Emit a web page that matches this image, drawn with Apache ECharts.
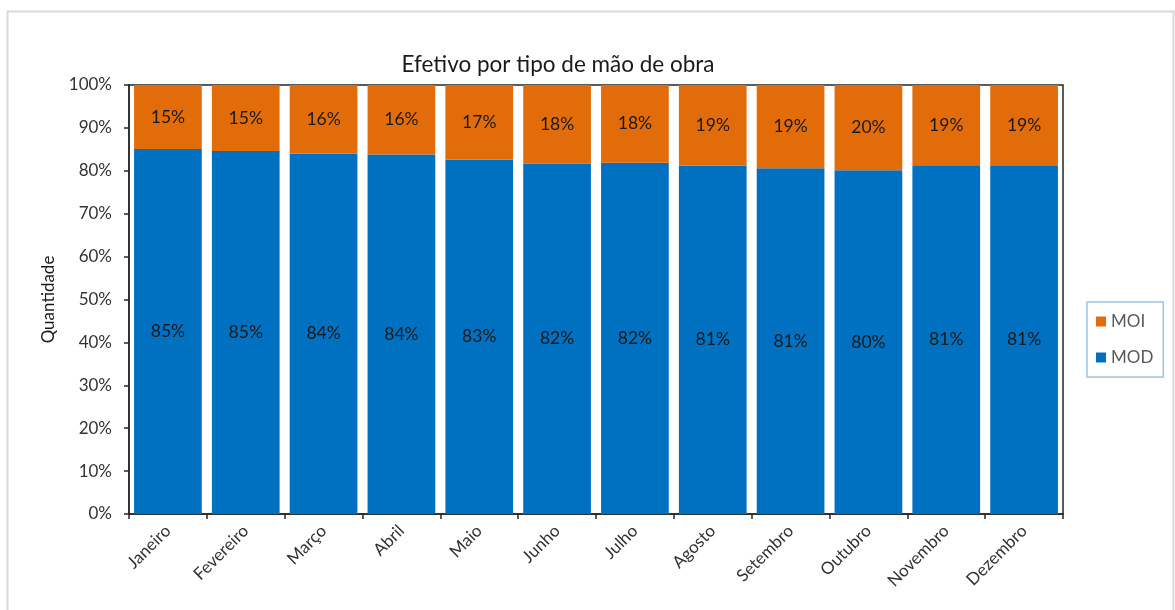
<!DOCTYPE html>
<html>
<head>
<meta charset="utf-8">
<script src="https://cdn.jsdelivr.net/npm/echarts@6/dist/echarts.min.js"></script>
<style>html,body{margin:0;padding:0;background:#fff;}#c{width:1175px;height:610px;}</style>
</head>
<body>
<div id="c"></div>
<script>
const categories = ['Janeiro','Fevereiro','Março','Abril','Maio','Junho','Julho','Agosto','Setembro','Outubro','Novembro','Dezembro'];
const modValues = [85.1, 84.6, 84.0, 83.8, 82.6, 81.7, 81.9, 81.2, 80.6, 80.1, 81.3, 81.3];
const moiValues = [14.9, 15.4, 16.0, 16.2, 17.4, 18.3, 18.1, 18.8, 19.4, 19.9, 18.7, 18.7];
const yTicks = [0, 10, 20, 30, 40, 50, 60, 70, 80, 90, 100];

const FONT = 'Lato, "Open Sans", sans-serif';
const chart = echarts.init(document.getElementById('c'));
const labelStyle = {
  show: true, position: 'inside', color: '#1a1a1a', fontSize: 17.5, fontFamily: FONT,
  formatter: p => Math.round(p.value) + '%'
};
chart.setOption({
  animation: false,
  backgroundColor: '#fff',
  graphic: [{
    type: 'rect', shape: { x: 7.5, y: 11.5, width: 1166, height: 620 },
    style: { fill: 'none', stroke: '#d9d9d9', lineWidth: 2 }, silent: true
  }],
  title: {
    text: 'Efetivo por tipo de mão de obra', left: 553, top: 48, textAlign: 'center',
    textStyle: { fontFamily: FONT, fontSize: 22.5, fontWeight: 'normal', color: '#1a1a1a' }
  },
  legend: {
    orient: 'vertical', left: 1087, top: 302, data: ['MOI', 'MOD'],
    itemWidth: 10, itemHeight: 10, itemGap: 19, icon: 'rect',
    padding: [11, 10, 11, 9], borderColor: '#9dc3e6', borderWidth: 1.5,
    textStyle: { fontFamily: FONT, fontSize: 17, color: '#595959' }
  },
  grid: {
    left: 129, right: 112, top: 85, bottom: 96, show: true,
    borderColor: '#262626', borderWidth: 1.5, backgroundColor: 'transparent'
  },
  xAxis: {
    type: 'category', data: categories,
    axisLine: { lineStyle: { color: '#262626', width: 1.5 } },
    axisTick: { show: true, length: 5, lineStyle: { color: '#262626', width: 1.5 } },
    axisLabel: { rotate: 45, margin: 14, fontFamily: FONT, fontSize: 17, color: '#333' }
  },
  yAxis: {
    type: 'value', min: 0, max: 100, interval: 10,
    name: 'Quantidade', nameLocation: 'middle', nameGap: 72, nameRotate: 90,
    nameTextStyle: { fontFamily: FONT, fontSize: 17, color: '#1a1a1a' },
    splitLine: { show: false },
    axisLine: { show: true, lineStyle: { color: '#262626', width: 1.5 } },
    axisTick: { show: true, length: 5, lineStyle: { color: '#262626', width: 1.5 } },
    axisLabel: {
      fontFamily: FONT, fontSize: 17, color: '#333', margin: 17,
      formatter: v => yTicks.includes(v) ? v + '%' : ''
    }
  },
  series: [
    { name: 'MOD', type: 'bar', stack: 'total', data: modValues, barCategoryGap: '13%',
      itemStyle: { color: '#0070c0' }, label: labelStyle },
    { name: 'MOI', type: 'bar', stack: 'total', data: moiValues, barCategoryGap: '13%',
      itemStyle: { color: '#e36c0a' }, label: labelStyle }
  ]
});
</script>
</body>
</html>
